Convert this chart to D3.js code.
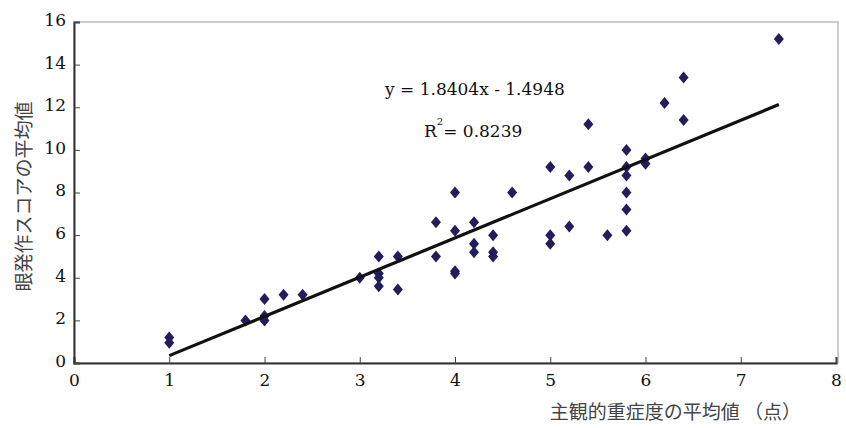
<!DOCTYPE html>
<html lang="ja">
<head>
<meta charset="UTF-8">
<title>主観的重症度と眼発作スコア</title>
<script src="https://d3js.org/d3.v7.min.js"></script>
<style>
  body { margin: 0; background: #fff; }
  svg { display: block; }
</style>
</head>
<body>
<svg id="chart" width="846" height="428"></svg>
<script>
// mean subjective severity (x) vs mean eye-attack score (y)
const xs = [1, 1, 1.8, 2, 2, 2, 2.2, 2.4, 3, 3.2, 3.2, 3.2, 3.2, 3.4, 3.4,
            3.8, 3.8, 4, 4, 4, 4, 4.2, 4.2, 4.2, 4.4, 4.4, 4.4, 4.6,
            5, 5, 5, 5.2, 5.2, 5.4, 5.4, 5.6, 5.8, 5.8, 5.8, 5.8, 5.8, 5.8,
            6, 6, 6.2, 6.4, 6.4, 7.4];
const ys = [1.2, 0.95, 2.0, 3.0, 2.2, 2.0, 3.2, 3.2, 4.0, 5.0, 4.2, 4.0, 3.6, 5.0, 3.45,
            6.6, 5.0, 8.0, 6.2, 4.3, 4.2, 6.6, 5.6, 5.2, 6.0, 5.2, 5.0, 8.0,
            9.2, 6.0, 5.6, 8.8, 6.4, 11.2, 9.2, 6.0, 10.0, 9.2, 8.8, 8.0, 7.2, 6.2,
            9.6, 9.35, 12.2, 13.4, 11.4, 15.2];
const slope = 1.8404, intercept = -1.4948;
const fitRange = [1, 7.4];
const xTicks = [0, 1, 2, 3, 4, 5, 6, 7, 8];
const yTicks = [0, 2, 4, 6, 8, 10, 12, 14, 16];

const serif = "'DejaVu Serif', 'Liberation Serif', serif";
const jp = "'Noto Sans CJK JP', sans-serif";

const svg = d3.select("#chart");
const m = { left: 74, right: 836, top: 22, bottom: 363 };

const x = d3.scaleLinear().domain([0, 8]).range([m.left, m.right]);
const y = d3.scaleLinear().domain([0, 16]).range([m.bottom, m.top]);

// plot frame
svg.append("rect")
  .attr("x", m.left).attr("y", m.top)
  .attr("width", m.right - m.left + 2).attr("height", m.bottom - m.top)
  .attr("fill", "none").attr("stroke", "#999").attr("stroke-width", 1);

const xAxis = svg.append("g")
  .attr("transform", `translate(0,${m.bottom})`)
  .call(d3.axisBottom(x).tickValues(xTicks).tickSize(-6).tickPadding(11).tickFormat(d3.format("d")));
const yAxis = svg.append("g")
  .attr("transform", `translate(${m.left},0)`)
  .call(d3.axisLeft(y).tickValues(yTicks).tickSize(-6).tickPadding(8).tickFormat(d3.format("d")));

[xAxis, yAxis].forEach(g => {
  g.attr("font-family", serif).attr("font-size", 17);
  g.select(".domain").attr("stroke", "#333").attr("stroke-width", 2);
  g.selectAll(".tick line").attr("stroke", "#444");
  g.selectAll(".tick text").attr("fill", "#111");
});
yAxis.selectAll(".tick text").attr("dy", "0.2em");

// axis titles
svg.append("text")
  .attr("transform", `translate(31,${(m.top + m.bottom) / 2 + 4}) rotate(-90)`)
  .attr("text-anchor", "middle")
  .attr("font-family", jp).attr("font-size", 19).attr("fill", "#444")
  .text("眼発作スコアの平均値");
svg.append("text")
  .attr("x", 801).attr("y", 419)
  .attr("text-anchor", "end")
  .attr("font-family", jp).attr("font-size", 19).attr("fill", "#444")
  .text("主観的重症度の平均値 （点）");

// data points (diamonds)
const pts = xs.map((v, i) => [v, ys[i]]);
svg.append("g").selectAll("path")
  .data(pts).enter().append("path")
  .attr("transform", d => `translate(${x(d[0])},${y(d[1])})`)
  .attr("d", "M0,-6L5,0L0,6L-5,0Z")
  .attr("fill", "#231d5c");

// regression line
svg.append("line")
  .attr("x1", x(fitRange[0])).attr("y1", y(slope * fitRange[0] + intercept))
  .attr("x2", x(fitRange[1])).attr("y2", y(slope * fitRange[1] + intercept))
  .attr("stroke", "#111").attr("stroke-width", 3.2);

// equation labels
svg.append("text")
  .attr("x", 385).attr("y", 95)
  .attr("font-family", serif).attr("font-size", 17).attr("fill", "#111")
  .text("y = 1.8404x - 1.4948");
const r2 = svg.append("text")
  .attr("x", 424).attr("y", 137)
  .attr("font-family", serif).attr("font-size", 17).attr("fill", "#111");
r2.append("tspan").text("R");
r2.append("tspan").attr("dy", -12).attr("font-size", 10).text("2");
r2.append("tspan").attr("dy", 12).text("= 0.8239");
</script>
</body>
</html>
